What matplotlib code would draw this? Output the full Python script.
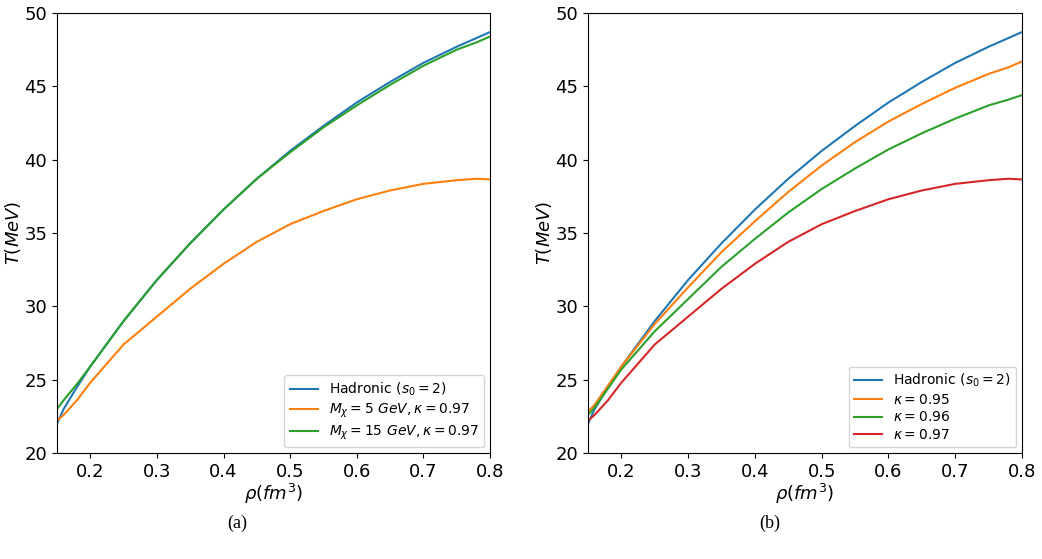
import matplotlib
matplotlib.use("Agg")
import matplotlib.pyplot as plt

x_common = [0.15, 0.16, 0.18, 0.20, 0.25, 0.30, 0.35, 0.40, 0.45, 0.50, 0.55, 0.60, 0.65, 0.70, 0.75, 0.78, 0.80]

t_hadronic = [22.0, 23.0, 24.5, 25.9, 29.0, 31.8, 34.3, 36.6, 38.7, 40.6, 42.3, 43.9, 45.3, 46.6, 47.7, 48.3, 48.7]
t_m15 = [23.0, 23.6, 24.7, 25.9, 29.0, 31.8, 34.3, 36.6, 38.7, 40.5, 42.2, 43.7, 45.1, 46.4, 47.5, 48.0, 48.4]
t_k097 = [22.2, 22.6, 23.6, 24.8, 27.4, 29.3, 31.2, 32.9, 34.4, 35.6, 36.5, 37.3, 37.9, 38.35, 38.6, 38.7, 38.65]
t_k095 = [22.8, 23.3, 24.6, 25.9, 28.8, 31.3, 33.7, 35.8, 37.8, 39.6, 41.2, 42.6, 43.8, 44.9, 45.85, 46.3, 46.7]
t_k096 = [22.6, 23.1, 24.4, 25.7, 28.3, 30.5, 32.7, 34.6, 36.4, 38.0, 39.4, 40.7, 41.8, 42.8, 43.7, 44.1, 44.4]

labels_a = [r"Hadronic ($s_0=2$)", r"$M_\chi=5\ GeV, \kappa=0.97$", r"$M_\chi=15\ GeV, \kappa=0.97$"]
labels_b = [r"Hadronic ($s_0=2$)", r"$\kappa=0.95$", r"$\kappa=0.96$", r"$\kappa=0.97$"]

fig = plt.figure(figsize=(10.42, 5.59), dpi=100)
ax1 = fig.add_axes([57/1042, 1-453/559, 433/1042, 440/559])
ax2 = fig.add_axes([588/1042, 1-453/559, 434/1042, 440/559])

c = ["#1f77b4", "#ff7f0e", "#2ca02c", "#d62728"]
ax1.plot(x_common, t_hadronic, color=c[0], label=labels_a[0])
ax1.plot(x_common, t_k097, color=c[1], label=labels_a[1])
ax1.plot(x_common, t_m15, color=c[2], label=labels_a[2])

ax2.plot(x_common, t_hadronic, color=c[0], label=labels_b[0])
ax2.plot(x_common, t_k095, color=c[1], label=labels_b[1])
ax2.plot(x_common, t_k096, color=c[2], label=labels_b[2])
ax2.plot(x_common, t_k097, color=c[3], label=labels_b[3])

for ax in (ax1, ax2):
    ax.set_xlim(0.15, 0.8)
    ax.set_ylim(20, 50)
    ax.set_xticks([0.2, 0.3, 0.4, 0.5, 0.6, 0.7, 0.8])
    ax.set_yticks([20, 25, 30, 35, 40, 45, 50])
    ax.tick_params(labelsize=13)
    ax.set_xlabel(r"$\rho(fm^3)$", fontsize=13, labelpad=1)
    ax.set_ylabel(r"$T(MeV)$", fontsize=13, labelpad=1)
    ax.legend(loc="lower right", fontsize=10, labelspacing=0.25,
              borderaxespad=0.4)

fig.text(237/1042, 1-523/559, "(a)", ha="center", va="center", fontsize=13, family="Liberation Serif")
fig.text(770/1042, 1-523/559, "(b)", ha="center", va="center", fontsize=13, family="Liberation Serif")

fig.savefig("out.png", dpi=100)
